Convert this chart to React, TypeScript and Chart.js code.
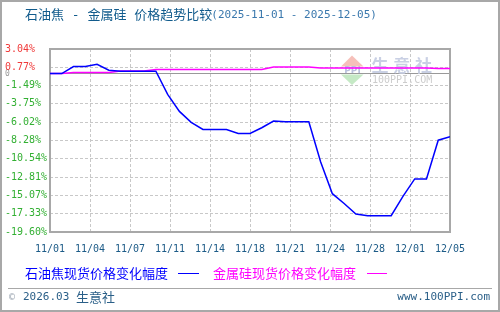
import React, { useEffect, useRef } from 'react';
import { Chart, registerables } from 'chart.js';

Chart.register(...registerables);

// ---- data ----
const dates = [
  '11/01','11/02','11/03','11/04','11/05','11/06','11/07','11/08','11/09','11/10',
  '11/11','11/12','11/13','11/14','11/15','11/16','11/17','11/18','11/19','11/20',
  '11/21','11/22','11/23','11/24','11/25','11/26','11/27','11/28','11/29','11/30',
  '12/01','12/02','12/03','12/04','12/05',
];
const xTickLabels = ['11/01','11/04','11/07','11/11','11/14','11/18','11/21','11/24','11/28','12/01','12/05'];
const yTickValues = [-19.60, -17.33, -15.07, -12.81, -10.54, -8.28, -6.02, -3.75, -1.49, 0, 0.77, 3.04];

const petcokeLabel = '石油焦现货价格变化幅度';
const siliconLabel = '金属硅现货价格变化幅度';

const petcoke = [
  0, 0, 0.87, 0.87, 1.15, 0.41, 0.29, 0.29, 0.29, 0.29,
  -2.57, -4.68, -6.04, -6.91, -6.91, -6.91, -7.40, -7.40, -6.70, -5.88,
  -5.96, -5.96, -5.96, -10.90, -14.86, -16.08, -17.38, -17.58, -17.58, -17.58,
  -15.20, -13.03, -13.03, -8.24, -7.82,
];
const silicon = [
  0, 0, 0.12, 0.12, 0.12, 0.12, 0.32, 0.32, 0.32, 0.50,
  0.50, 0.50, 0.50, 0.50, 0.50, 0.50, 0.50, 0.50, 0.50, 0.82,
  0.82, 0.82, 0.82, 0.70, 0.70, 0.70, 0.70, 0.70, 0.70, 0.70,
  0.70, 0.70, 0.70, 0.62, 0.62,
];

const titleMain = '石油焦 - 金属硅 价格趋势比较';
const titleRange = '(2025-11-01 - 2025-12-05)';

const MONO = '"DejaVu Sans Mono", "Liberation Mono", monospace';
const CJK = '"Noto Sans CJK SC", sans-serif';

const decorPlugin = {
  id: 'decor',
  beforeDraw(chart: any) {
    const { ctx, width, height } = chart;
    ctx.save();
    ctx.fillStyle = '#ffffff';
    ctx.fillRect(0, 0, width, height);
    ctx.restore();
  },
  beforeDatasetsDraw(chart: any) {
    const { ctx, chartArea: a } = chart;
    ctx.save();
    // watermark
    ctx.fillStyle = 'rgba(240,150,140,0.6)';
    ctx.beginPath();
    ctx.moveTo(352, 55.5);
    ctx.lineTo(363.5, 66.5);
    ctx.lineTo(341, 66.5);
    ctx.closePath();
    ctx.fill();
    ctx.fillStyle = 'rgba(150,215,150,0.55)';
    ctx.beginPath();
    ctx.moveTo(341, 74.5);
    ctx.lineTo(363.5, 74.5);
    ctx.lineTo(352, 85);
    ctx.closePath();
    ctx.fill();
    ctx.fillStyle = '#b9c1dd';
    ctx.font = 'bold 9px "DejaVu Sans"';
    ctx.textAlign = 'center';
    ctx.textBaseline = 'middle';
    ctx.fillText('PPI', 352.5, 70.5);
    ctx.fillStyle = '#c9d0e4';
    ctx.font = 'bold 17px ' + CJK;
    ['生', '意', '社'].forEach((c, i) => ctx.fillText(c, 380 + i * 21.7, 66));
    ctx.fillStyle = '#cccccc';
    ctx.font = '10px ' + MONO;
    ctx.textAlign = 'left';
    ctx.fillText('100PPI.COM', 372, 80.5);
    // plot border
    ctx.strokeStyle = '#a8a8a8';
    ctx.lineWidth = 2;
    ctx.strokeRect(a.left, a.top, a.right - a.left, a.bottom - a.top);
    ctx.restore();
  },
  afterDraw(chart: any) {
    const { ctx, width, height } = chart;
    const ds = chart.data.datasets;
    ctx.save();
    ctx.textBaseline = 'middle';
    ctx.textAlign = 'left';
    // title
    ctx.fillStyle = '#115b8c';
    ctx.font = '13px ' + MONO + ', ' + CJK;
    ctx.fillText(titleMain, 25, 15.5);
    const w = ctx.measureText(titleMain).width;
    ctx.fillStyle = '#3a78ad';
    ctx.font = '11px ' + MONO;
    ctx.fillText(titleRange, 25 + w - 1, 15.5);
    // legend
    ctx.font = '13px ' + CJK;
    ctx.fillStyle = ds[0].borderColor;
    ctx.fillText(ds[0].label, 25, 273);
    ctx.strokeStyle = ds[0].borderColor;
    ctx.lineWidth = 1;
    ctx.beginPath();
    ctx.moveTo(178, 273.5);
    ctx.lineTo(199, 273.5);
    ctx.stroke();
    ctx.fillStyle = ds[1].borderColor;
    ctx.fillText(ds[1].label, 213, 273);
    ctx.strokeStyle = ds[1].borderColor;
    ctx.beginPath();
    ctx.moveTo(367, 273.5);
    ctx.lineTo(387, 273.5);
    ctx.stroke();
    // footer
    ctx.strokeStyle = '#a8a8a8';
    ctx.beginPath();
    ctx.moveTo(8, 288.5);
    ctx.lineTo(492, 288.5);
    ctx.stroke();
    ctx.fillStyle = '#9aa4b0';
    ctx.font = '10px ' + MONO;
    ctx.fillText('©', 9, 297);
    ctx.fillStyle = '#2a5f88';
    ctx.font = '11px ' + MONO;
    ctx.fillText('2026.03', 23, 297.5);
    ctx.font = '13px ' + CJK;
    ctx.fillText('生意社', 76, 297.5);
    ctx.font = '11px ' + MONO;
    ctx.textAlign = 'right';
    ctx.fillText('www.100PPI.com', 490, 297.5);
    // outer frame
    ctx.strokeStyle = '#a8a8a8';
    ctx.lineWidth = 2;
    ctx.strokeRect(1, 1, width - 2, height - 2);
    ctx.restore();
  },
};

export default function App() {
  const ref = useRef<HTMLCanvasElement | null>(null);

  useEffect(() => {
    document.body.style.margin = '0';
    const canvas = ref.current;
    if (!canvas) return;
    const chart = new Chart(canvas, {
      type: 'line',
      data: {
        datasets: [
          {
            label: petcokeLabel,
            data: petcoke.map((v, i) => ({ x: i, y: v })),
            borderColor: '#0000ff',
            borderWidth: 1.5,
            pointRadius: 0,
            tension: 0,
            fill: false,
          },
          {
            label: siliconLabel,
            data: silicon.map((v, i) => ({ x: i, y: v })),
            borderColor: '#ff00ff',
            borderWidth: 1.5,
            pointRadius: 0,
            tension: 0,
            fill: false,
          },
        ],
      },
      options: {
        animation: false,
        responsive: false,
        devicePixelRatio: 1,
        layout: { padding: { left: 5, right: 50, top: 49, bottom: 0 } },
        plugins: {
          legend: { display: false },
          tooltip: { enabled: false },
          title: { display: false },
        },
        scales: {
          x: {
            type: 'linear',
            min: 0,
            max: dates.length - 1,
            afterBuildTicks: (s: any) => {
              const n = xTickLabels.length - 1;
              s.ticks = xTickLabels.map((_, i) => ({ value: (i * (dates.length - 1)) / n }));
            },
            afterFit: (s: any) => {
              s.height = 80;
            },
            ticks: {
              autoSkip: false,
              maxRotation: 0,
              padding: 11,
              color: '#1c5b87',
              font: { family: MONO, size: 10 },
              callback: (_v: any, i: number) => xTickLabels[i],
            },
            grid: { color: '#c8c8c8', lineWidth: 1, drawTicks: false },
            border: { display: false, dash: [3, 2] },
          },
          y: {
            type: 'linear',
            min: yTickValues[0],
            max: yTickValues[yTickValues.length - 1],
            afterBuildTicks: (s: any) => {
              s.ticks = yTickValues.map((v) => ({ value: v }));
            },
            afterFit: (s: any) => {
              s.width = 45;
            },
            ticks: {
              autoSkip: false,
              crossAlign: 'far',
              padding: 0,
              callback: (v: any) => (v === 0 ? '0' : Number(v).toFixed(2) + '%'),
              color: (c: any) => {
                const v = c.tick ? c.tick.value : 1;
                return v > 0 ? '#f03a3a' : v < 0 ? '#33b033' : '#999999';
              },
              font: (c: any) => {
                const v = c.tick ? c.tick.value : 1;
                return { family: MONO, size: v === 0 ? 8 : 10 };
              },
            },
            grid: {
              drawTicks: false,
              lineWidth: 1,
              color: (c: any) => (c.tick && c.tick.value === 0 ? '#999999' : '#c8c8c8'),
            },
            border: {
              display: false,
              dash: (c: any) => (c.tick && c.tick.value === 0 ? [] : [3, 2]),
            },
          },
        },
      },
      plugins: [decorPlugin],
    } as any);
    return () => chart.destroy();
  }, []);

  return (
    <div style={{ width: 500, height: 312 }}>
      <canvas ref={ref} width={500} height={312} style={{ display: 'block' }} />
    </div>
  );
}
